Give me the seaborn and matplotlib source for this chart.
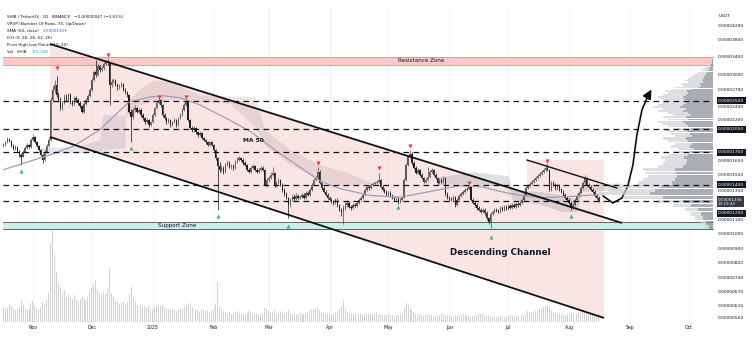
import numpy as np
import pandas as pd
import matplotlib
matplotlib.use("Agg")
import matplotlib.pyplot as plt
import seaborn as sns
from matplotlib.ticker import FixedLocator, NullLocator, FuncFormatter

# ---------------- data (prices in units of 1e-8 USDT) ----------------
START_DATE = "2024-10-17"
FIRST_OPEN = 1830

closes = [
    1845, 1884, 1923, 1897, 1832, 1795, 1820, 1771, 1723, 1700,
    1759, 1808, 1845, 1820, 1910, 1950, 1884, 1832, 1783, 1723,
    1664, 1759, 1832, 1910, 2515, 2694, 2788, 2603,
    2515, 2381, 2464, 2568, 2515, 2603, 2480, 2447, 2550, 2515,
    2464, 2413, 2316, 2447, 2515, 2585, 2694,
    2886, 3047, 2986, 3178, 3091, 3134, 3222, 3266, 3244, 2788,
    2846, 2886, 2788, 2740, 2769, 2808, 2694, 2658, 2603, 2316,
    2238, 2348, 2381, 2316, 2348, 2268, 2222, 2162, 2192, 2117, 2162,
    2268, 2381, 2464, 2515, 2430, 2268, 2222, 2162, 2192, 2117,
    2162, 2192, 2117, 2222, 2268, 2348, 2430, 2480, 2192, 2075,
    2046, 2075, 2018, 1977, 2004, 1936, 1910, 1884, 1845, 1884,
    1845, 1783, 1688, 1597,
    1554, 1575, 1533, 1608, 1630, 1586, 1597, 1575, 1641, 1664,
    1688, 1664, 1630, 1608, 1554, 1533, 1575, 1597, 1554, 1533,
    1554, 1575, 1554, 1401, 1450, 1470, 1501, 1522, 1391, 1420, 1450,
    1401, 1354, 1317, 1281, 1221, 1264, 1290, 1272, 1300, 1281,
    1290, 1308, 1281, 1326, 1308, 1354, 1401, 1450, 1470, 1533,
    1420, 1372, 1336, 1308, 1281, 1264, 1247, 1238, 1264, 1221,
    1180, 1160, 1196,
    1221, 1238, 1204, 1196, 1221, 1213, 1238, 1264, 1281, 1308,
    1354, 1382, 1372, 1401, 1411, 1420, 1430, 1450,
    1382, 1354, 1336, 1308, 1326, 1300, 1281, 1264, 1272, 1247,
    1264, 1281, 1450, 1608, 1700, 1735, 1630, 1575, 1522, 1554,
    1501, 1470, 1430, 1450, 1480, 1533, 1554, 1501, 1470, 1420,
    1450, 1430, 1470, 1317, 1281, 1272, 1264, 1290, 1221, 1264,
    1300, 1317, 1336, 1354, 1363, 1382, 1264, 1238, 1221, 1196,
    1180, 1164, 1180, 1152, 1116, 1086, 1148, 1164, 1180, 1172,
    1164, 1196, 1180, 1204, 1188, 1213, 1196, 1221, 1204, 1230,
    1221, 1238, 1264, 1308, 1372, 1391, 1411, 1430, 1450, 1470,
    1490, 1511, 1533, 1554, 1575, 1554, 1354, 1420, 1401, 1372,
    1391, 1354, 1336, 1308, 1281, 1264, 1238, 1196, 1221, 1264,
    1300, 1326, 1372, 1420, 1470, 1401, 1382, 1354, 1336, 1300, 1281, 1255,
]

highs = [
    1870, 1900, 1950, 1935, 1910, 1850, 1840, 1830, 1785, 1740,
    1775, 1825, 1870, 1860, 1935, 1985, 1965, 1900, 1845, 1795,
    1735, 1775, 1850, 1940, 2560, 2760, 2880, 2960,
    2660, 2560, 2500, 2610, 2620, 2640, 2630, 2520, 2580, 2590,
    2540, 2490, 2430, 2470, 2550, 2620, 2720,
    2930, 3100, 3300, 3220, 3200, 3180, 3260, 3300, 3340, 3260,
    2900, 2930, 2910, 2820, 2800, 2840, 2830, 2720, 2680, 2620,
    2360, 2380, 2420, 2400, 2380, 2370, 2290, 2240, 2220, 2210, 2180,
    2290, 2400, 2490, 2540, 2530, 2440, 2300, 2240, 2220, 2210,
    2180, 2220, 2210, 2240, 2290, 2370, 2460, 2530, 2490, 2210,
    2100, 2100, 2090, 2030, 2030, 2020, 1950, 1925, 1900, 1900,
    1900, 1860, 1795, 1700,
    1640, 1600, 1590, 1625, 1660, 1645, 1620, 1615, 1660, 1690,
    1710, 1700, 1680, 1650, 1620, 1570, 1590, 1620, 1610, 1570,
    1575, 1595, 1590, 1565, 1465, 1490, 1525, 1586, 1530, 1440, 1470,
    1460, 1415, 1365, 1330, 1290, 1280, 1305, 1310, 1320, 1315,
    1305, 1325, 1320, 1340, 1340, 1370, 1415, 1465, 1490, 1586,
    1545, 1430, 1385, 1350, 1320, 1295, 1280, 1260, 1280, 1275,
    1230, 1195, 1215,
    1240, 1260, 1250, 1220, 1235, 1235, 1250, 1280, 1295, 1325,
    1370, 1400, 1400, 1420, 1430, 1440, 1450, 1522,
    1460, 1395, 1370, 1350, 1340, 1340, 1315, 1295, 1290, 1285,
    1280, 1300, 1465, 1625, 1720, 1783, 1750, 1645, 1590, 1570,
    1565, 1515, 1480, 1465, 1586, 1550, 1575, 1565, 1515, 1480,
    1465, 1465, 1485, 1480, 1330, 1300, 1290, 1305, 1300, 1280,
    1315, 1335, 1350, 1370, 1380, 1401, 1390, 1280, 1250, 1235,
    1210, 1195, 1195, 1195, 1165, 1125, 1160, 1180, 1195, 1195,
    1185, 1210, 1210, 1220, 1215, 1225, 1225, 1235, 1235, 1245,
    1245, 1255, 1280, 1325, 1385, 1410, 1430, 1450, 1470, 1490,
    1510, 1530, 1555, 1575, 1600, 1615, 1565, 1435, 1440, 1415,
    1410, 1405, 1370, 1350, 1320, 1295, 1275, 1250, 1235, 1280,
    1315, 1340, 1390, 1440, 1501, 1480, 1415, 1395, 1370, 1350, 1315, 1300,
]

lows = [
    1815, 1830, 1870, 1880, 1815, 1780, 1780, 1755, 1700, 1605,
    1690, 1745, 1795, 1800, 1810, 1895, 1870, 1815, 1765, 1705,
    1630, 1650, 1745, 1815, 1890, 2480, 2640, 2560,
    2470, 2340, 2350, 2440, 2480, 2490, 2450, 2410, 2430, 2480,
    2430, 2380, 2290, 2300, 2420, 2490, 2560,
    2670, 2860, 2940, 2960, 3050, 3060, 3100, 3190, 3200, 2430,
    2750, 2820, 2760, 2700, 2710, 2740, 2670, 2620, 2570, 2290,
    1884, 2210, 2320, 2290, 2290, 2240, 2190, 2130, 2140, 2090, 2100,
    2150, 2250, 2360, 2440, 2400, 2240, 2190, 2130, 2140, 2090,
    2100, 2140, 2080, 2100, 2200, 2250, 2330, 2410, 2170, 2050,
    2020, 2020, 1990, 1950, 1960, 1915, 1890, 1860, 1825, 1830,
    1825, 1765, 1660, 1180,
    1530, 1530, 1510, 1520, 1590, 1570, 1565, 1555, 1560, 1625,
    1650, 1645, 1610, 1590, 1535, 1515, 1520, 1560, 1540, 1515,
    1520, 1540, 1540, 1385, 1380, 1430, 1455, 1490, 1375, 1375, 1405,
    1385, 1335, 1300, 1265, 1110, 1205, 1250, 1255, 1260, 1265,
    1265, 1275, 1265, 1270, 1295, 1295, 1340, 1390, 1435, 1460,
    1405, 1355, 1320, 1295, 1265, 1250, 1235, 1220, 1225, 1205,
    1165, 1130, 1065,
    1180, 1205, 1190, 1180, 1185, 1200, 1200, 1225, 1250, 1270,
    1295, 1340, 1355, 1360, 1390, 1400, 1405, 1420,
    1370, 1340, 1320, 1295, 1295, 1285, 1265, 1250, 1250, 1230,
    1235, 1250, 1275, 1440, 1590, 1680, 1610, 1560, 1505, 1510,
    1485, 1455, 1415, 1415, 1440, 1470, 1520, 1485, 1455, 1405,
    1405, 1415, 1420, 1300, 1265, 1255, 1250, 1250, 1204, 1210,
    1250, 1285, 1305, 1325, 1340, 1350, 1250, 1225, 1205, 1180,
    1165, 1150, 1150, 1140, 1100, 1070, 1042, 1135, 1150, 1160,
    1150, 1155, 1165, 1170, 1175, 1180, 1185, 1185, 1190, 1195,
    1205, 1210, 1225, 1255, 1295, 1360, 1380, 1395, 1415, 1435,
    1455, 1475, 1495, 1515, 1540, 1540, 1340, 1340, 1385, 1355,
    1355, 1340, 1320, 1295, 1265, 1250, 1225, 1180, 1185, 1210,
    1250, 1285, 1315, 1360, 1405, 1385, 1365, 1340, 1320, 1285, 1265, 1240,
]

volumes_b = [
    1800, 1500, 1700, 2200, 1900, 1600, 1400, 1500, 1800, 2600,
    2000, 1700, 1500, 1600, 2300, 2500, 2000, 1700, 1600, 1800,
    2400, 2100, 2600, 3500,
    9500, 11000, 8000, 6000,
    4500, 4200, 3500, 3800, 3000, 3300, 3000, 2800, 3200, 2600,
    2500, 2800, 3000, 2700, 2500, 3000, 3600,
    4200, 4500, 5000, 3800, 3500, 3200, 3600, 3300, 4000, 6500,
    3500, 3000, 2500, 2400, 2200, 2300, 2500, 2200, 2400, 3300,
    4200, 3000, 2500, 2000, 1900, 2000, 1800, 1900, 1700, 2000, 1600,
    1500, 1800, 2000, 2200, 1900, 2000, 1700, 1600, 1500, 1400,
    1500, 1400, 1300, 1400, 1500, 1600, 1800, 2000, 2200, 2300,
    1800, 1600, 1500, 1400, 1300, 1500, 1400, 1300, 1400, 1200,
    1300, 1500, 2200,
    4800,
    1800, 1500, 1300, 1200, 1100, 1200, 1000, 1100, 1200, 1300,
    1100, 1000, 900, 1000, 1100, 1300, 1200, 1000, 900, 950,
    1000, 1100, 1000, 1700, 1500, 1300, 1100, 1200, 1400, 1000,
    1100, 1200, 1300, 1000, 1200, 1400, 1100, 1000, 900, 950,
    1000, 1100, 1000, 900, 1000, 1100, 1300, 1400, 1500, 1600,
    1800, 1400, 1200, 1100, 1000, 950, 900, 1000, 1100, 1200,
    1300, 1500, 1800,
    2600,
    1500, 1200, 1100, 1000, 900, 950, 1000, 900, 950, 1000,
    1100, 1000, 950, 900, 1000, 1100, 1200, 1000, 900, 850,
    800, 850, 900, 850, 800, 750, 800, 850, 800, 900,
    1800, 2300, 2000, 1700,
    1400, 1200, 1000, 900, 850, 800, 750, 800, 850, 900,
    800, 750, 700, 750, 800, 900, 1000, 850, 800, 750,
    700, 650, 700, 750, 800, 850, 900, 800, 750, 700,
    650, 700, 750, 800, 900, 1000, 950, 850, 800, 750,
    700, 650, 600, 650, 700, 750, 700, 650, 700, 750,
    800, 750, 700, 650, 700, 750, 800, 850,
    1100, 1300, 1200, 1100, 1200, 1300, 1400, 1500, 1600, 1800, 1900, 2000,
    1800, 1400, 1200, 1100, 1000, 950, 900, 850, 800, 900,
    1000, 1100, 950, 900, 1000, 1100, 1200, 1300, 1400, 1200,
    1000, 900, 850, 800, 750, 700,
]

# SMA(50) (day index, price)
ma_days = [0, 24, 36, 49, 57, 64, 75, 82, 90, 100, 113, 126, 138, 151, 161, 171,
           187, 202, 217, 232, 243, 258, 273, 288, 303]
ma_vals = [1554, 1723, 1832, 2046, 2268, 2480, 2568, 2585, 2550, 2430, 2222, 2018,
           1783, 1580, 1440, 1365, 1300, 1285, 1336, 1391, 1382, 1317, 1281, 1290, 1309]

# Ichimoku cloud pieces (day index, upper, lower)
cloud1_d = [18, 29, 39, 49, 50.5, 57, 62]
cloud1_top = [1808, 1820, 1832, 1910, 2268, 2268, 2260]
cloud1_bot = [1723, 1735, 1747, 1759, 1783, 1800, 1808]
cloud2_d = [62, 70, 77, 85, 92, 100, 115, 128, 133, 146, 161, 174, 181, 187]
cloud2_top = [2464, 2731, 2886, 2846, 2731, 2603, 2585, 2568, 2046, 1783, 1608, 1533, 1470, 1420]
cloud2_bot = [2222, 2430, 2515, 2515, 2515, 2480, 2464, 2088, 1845, 1608, 1450, 1382, 1411, 1411]
cloud3_d = [222, 239, 257, 259, 274, 284, 292, 294, 314]
cloud3_top = [1480, 1533, 1490, 1354, 1336, 1308, 1264, 1401, 1420]
cloud3_bot = [1401, 1411, 1382, 1264, 1221, 1164, 1164, 1336, 1354]

# pivot high / low markers
pivot_high_d = [27, 53, 79, 93, 160, 191, 207, 237, 277]
pivot_high_p = [3134, 3427, 2568, 2568, 1630, 1575, 1832, 1420, 1652]
pivot_low_d = [9, 65, 109, 145, 201, 248, 289]
pivot_low_p = [1543, 1808, 1132, 1057, 1204, 974, 1132]

# horizontal levels / zones
dashed_levels = [2500, 2050, 1750, 1400, 1250]
resistance_zone = (3200, 3380)
support_zone = (1032, 1083)
current_price = 1255

# drawn trend lines (day index, price)
chan_upper_d, chan_upper_p = [23.7, 314.9], [3697, 1076]
chan_lower_d, chan_lower_p = [23.7, 305.8], [1947, 559]
flag_upper_d, flag_upper_p = [266.5, 312.4], [1661, 1369]
channel_area_d = [23.7, 266.5, 266.5, 305.8, 305.8, 23.7]
channel_area_p = [3697, 1320, 1661, 1661, 559, 1947]
arrow_d = [305.3, 310.3, 314.9, 317.9, 320.5, 322.5, 325.1, 328.1]
arrow_p = [1296, 1235, 1278, 1389, 1605, 1973, 2345, 2583]
arrow_tip = (330.6, 2748)

# volume profile (70 rows, relative volume)
vp_low, vp_high, vp_rows = 1030, 3400, 70
vp_up = [4, 7, 10, 12, 15, 22, 30, 50, 63, 58, 52, 41, 38, 36, 37, 38, 30, 27, 26, 29,
         25, 22, 19, 23, 21, 25, 27, 21, 23, 26, 22, 25, 27, 30, 25, 27, 22, 25, 30, 27,
         33, 30, 27, 26, 29, 30, 27, 25, 26, 22, 15, 12, 13, 10, 11, 10, 9, 8, 7, 6,
         5, 4, 3, 2, 2, 1, 1, 1, 0, 0]
vp_down = [4, 5, 8, 10, 13, 18, 25, 40, 52, 47, 43, 34, 32, 29, 31, 32, 25, 23, 22, 23,
           20, 18, 16, 19, 17, 20, 23, 17, 19, 22, 18, 20, 23, 25, 20, 23, 18, 20, 25, 23,
           27, 25, 23, 22, 23, 25, 23, 20, 22, 18, 23, 18, 19, 15, 17, 15, 13, 12, 11, 9,
           7, 6, 5, 4, 2, 2, 1, 1, 1, 1]

month_starts = ["2024-11-01", "2024-12-01", "2025-01-01", "2025-02-01", "2025-03-01",
                "2025-04-01", "2025-05-01", "2025-06-01", "2025-07-01", "2025-08-01",
                "2025-09-01", "2025-10-01"]
month_labels = ["Nov", "Dec", "2025", "Feb", "Mar", "Apr", "May", "Jun", "Jul", "Aug", "Sep", "Oct"]
right_ticks = [4200, 3800, 3400, 3000, 2700, 2400, 2200, 1650, 1500, 1350, 1100, 1000,
               900, 820, 740, 670, 610, 560]

# ---------------- styling ----------------
sns.set_theme(style="white")
plt.rcParams["font.family"] = ["DejaVu Sans"]
TXT = "#131722"

W, H = 752, 358
fig = plt.figure(figsize=(W / 100, H / 100), dpi=100)
fig.patch.set_facecolor("white")
ax = fig.add_axes([0, 1 - 322 / H, 716 / W, 317 / H])
ax.set_yscale("log")
XMIN, XMAX = -1.78, 362.8
YMIN, YMAX = 543.5, 4837
ax.set_xlim(XMIN, XMAX)
ax.set_ylim(YMIN, YMAX)

ax_vol = ax.twinx()
ax_vp = ax.twiny()
ax_vol.set_zorder(0)
ax.set_zorder(1)
ax_vp.set_zorder(2)
ax.patch.set_visible(False)
ax_vp.patch.set_visible(False)
ax_vol.patch.set_visible(False)

base = pd.Timestamp(START_DATE)
days = np.arange(len(closes))
month_pos = [(pd.Timestamp(m) - base).days for m in month_starts]

# --- volume (bottom layer) ---
for m in month_pos:
    ax_vol.axvline(m, color="#eef0f4", lw=0.6, zorder=0)
ax_vol.bar(days, volumes_b, width=0.5, color="#cdcdcd", alpha=0.9, linewidth=0, zorder=1)
ax_vol.set_ylim(0, 38000)
ax_vol.set_xlim(XMIN, XMAX)
ax_vol.yaxis.set_visible(False)

# --- main price layer ---
ax.fill(channel_area_d, channel_area_p, color="#f7cccc", alpha=0.5, lw=0, zorder=1)
ax.axhspan(*resistance_zone, xmin=0.004, xmax=0.996, color="#f8c3c3", alpha=0.9, lw=0, zorder=1.5)
for v in resistance_zone:
    ax.axhline(v, xmin=0.004, xmax=0.996, color="#e88a8a", lw=0.6, zorder=1.6)
ax.axhspan(*support_zone, xmin=0.004, xmax=0.996, color="#c9f0ea", alpha=0.95, lw=0, zorder=1.5)
for v in support_zone:
    ax.axhline(v, xmin=0.004, xmax=0.996, color="#5f6368", lw=0.7, zorder=1.6)

ax.fill_between(cloud1_d, cloud1_bot, cloud1_top, color="#a4aec2", alpha=0.3, lw=0, zorder=2)
ax.fill_between(cloud2_d, cloud2_bot, cloud2_top, color="#a89090", alpha=0.22, lw=0, zorder=2)
ax.fill_between(cloud3_d, cloud3_bot, cloud3_top, color="#969ba5", alpha=0.3, lw=0, zorder=2)

opens = np.array([FIRST_OPEN] + closes[:-1], dtype=float)
c = np.array(closes, dtype=float)
hi = np.array(highs, dtype=float)
lo = np.array(lows, dtype=float)
up = c >= opens
colors = np.where(up, "#5a5a5a", "#1f1f1f")
ax.vlines(days, lo, hi, colors=colors, lw=0.55, zorder=3)
body_lo = np.minimum(opens, c)
body_h = np.maximum(np.abs(c - opens), body_lo * 0.006)
ax.bar(days, body_h, bottom=body_lo, width=0.7, color=colors, linewidth=0, zorder=3.5)

sns.lineplot(x=ma_days, y=ma_vals, ax=ax, color="#a09db8", lw=0.9, zorder=4)

ax.plot(chan_upper_d, chan_upper_p, color="#111111", lw=1.3, zorder=5, solid_capstyle="butt")
ax.plot(chan_lower_d, chan_lower_p, color="#111111", lw=1.3, zorder=5, solid_capstyle="butt")
ax.plot(flag_upper_d, flag_upper_p, color="#111111", lw=1.0, zorder=5)

sns.scatterplot(x=pivot_high_d, y=pivot_high_p, ax=ax, marker="v", color="#f23645",
                s=9, linewidth=0, zorder=6)
sns.scatterplot(x=pivot_low_d, y=pivot_low_p, ax=ax, marker="^", color="#3fb58f",
                s=9, linewidth=0, zorder=6)

ax.plot(arrow_d, arrow_p, color="#111111", lw=1.2, zorder=6, solid_capstyle="round")
ax.annotate("", xy=arrow_tip, xytext=(arrow_d[-1], arrow_p[-1]),
            arrowprops=dict(arrowstyle="-|>,head_length=0.45,head_width=0.22", color="#111111", lw=1.2),
            zorder=6)

ax.text(212.6, 3288, "Resistance Zone", fontsize=4.1, color=TXT, ha="center", va="center", zorder=7)
ax.text(78.7, 1057, "Support Zone", fontsize=4.1, color=TXT, ha="left", va="center", zorder=7)
ax.text(127.5, 1894, "MA 50", fontsize=4.3, color=TXT, ha="center", va="center", fontweight="bold", zorder=7)
ax.text(252.8, 875, "Descending Channel", fontsize=6.3, color=TXT, ha="center", va="center",
        fontweight="bold", zorder=7)

# axes formatting
ax.set_xlim(XMIN, XMAX)
ax.set_ylim(YMIN, YMAX)
ax.set_xlabel("")
ax.set_ylabel("")
ax.yaxis.tick_right()
ax.yaxis.set_major_locator(FixedLocator(right_ticks))
ax.yaxis.set_minor_locator(NullLocator())
ax.yaxis.set_major_formatter(FuncFormatter(lambda v, p: f"{v / 1e8:.8f}"))
ax.yaxis.set_minor_formatter(FuncFormatter(lambda v, p: ""))
ax.tick_params(axis="y", which="both", length=0, pad=1.2, labelsize=3.2, colors=TXT)
ax.set_xticks(month_pos)
ax.set_xticklabels(month_labels)
ax.tick_params(axis="x", length=0, pad=2.4, labelsize=3.3, colors=TXT)
for a in (ax, ax_vol, ax_vp):
    for s in a.spines.values():
        s.set_visible(False)

# --- volume profile (top layer) ---
row_h = (vp_high - vp_low) / vp_rows
row_bottoms = vp_low + row_h * np.arange(vp_rows)
ax_vp.barh(row_bottoms, vp_up, height=row_h * 0.88, left=0, align="edge",
           color="#868a93", alpha=0.7, linewidth=0)
ax_vp.barh(row_bottoms, vp_down, height=row_h * 0.88, left=vp_up, align="edge",
           color="#cfd1d6", alpha=0.7, linewidth=0)
ax_vp.set_xlim(716, -3)
ax_vp.set_ylim(YMIN, YMAX)
ax_vp.xaxis.set_visible(False)

for lvl in dashed_levels:
    ax_vp.axhline(lvl, xmin=0.004, xmax=0.996, color="#111111", lw=0.9,
                  dashes=(4.5, 3.5), zorder=8)

box = dict(boxstyle="square,pad=0.3", fc="#131722", ec="none")
label_shift = {1250: -8.6}
for lvl in dashed_levels:
    ax_vp.annotate(f"{lvl / 1e8:.8f}", xy=(1.0, lvl), xycoords=("axes fraction", "data"),
                   xytext=(1.5, label_shift.get(lvl, 0)), textcoords="offset points",
                   ha="left", va="center", fontsize=3.2, color="white", bbox=box,
                   annotation_clip=False, zorder=9)
ax_vp.annotate(f"{current_price / 1e8:.8f}\n13:19:42", xy=(1.0, current_price),
               xycoords=("axes fraction", "data"), xytext=(1.5, -0.8), textcoords="offset points",
               ha="left", va="center", fontsize=3.0, color="white", linespacing=1.1,
               bbox=dict(boxstyle="square,pad=0.3", fc="#363a45", ec="none"),
               annotation_clip=False, zorder=10)

# --- header text ---
def px(x, y):
    return x / W, 1 - y / H

legend_lines = [
    "SHIB / TetherUS · 1D · BINANCE   −0.00000047 (−3.61%)",
    "VRVP (Number Of Rows, 70, Up/Down)",
    "SMA (50, close)",
    "ICH (9, 26, 26, 52, 26)",
    "Pivot High Low Points (10, 10)",
    "Vol · SHIB",
]
for i, t in enumerate(legend_lines):
    fig.text(*px(7, 16.5 + i * 7.1), t, fontsize=3.0, color=TXT, va="center", ha="left")
fig.text(*px(43, 16.5 + 2 * 7.1), "0.00001309", fontsize=3.0, color="#2962ff", va="center")
fig.text(*px(32, 16.5 + 5 * 7.1), "715.16B", fontsize=3.0, color="#26a69a", va="center")
fig.text(*px(719, 16), "USDT", fontsize=3.2, color=TXT, va="center", ha="left")

fig.savefig("out.png", dpi=100, facecolor="white")
